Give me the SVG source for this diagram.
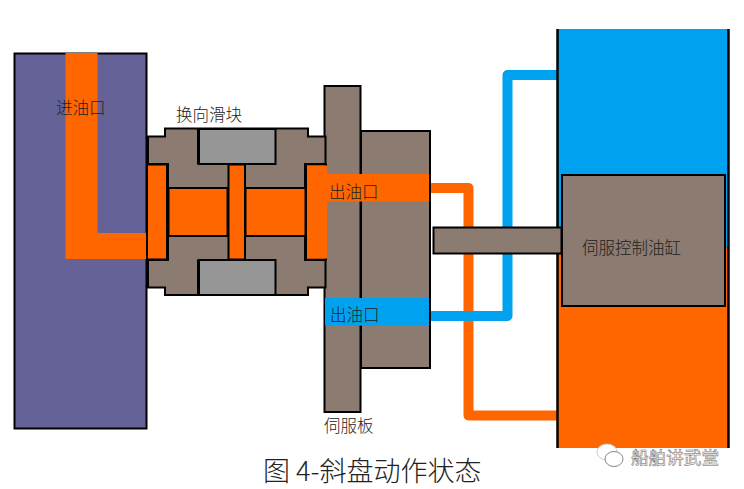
<svg xmlns="http://www.w3.org/2000/svg" width="744" height="489" viewBox="0 0 744 489">
<style>
.o{fill:#ff6600;stroke:none}
.b{fill:#00a2ef;stroke:none}
.br{fill:#8b7b70;stroke:#000;stroke-width:2}
.or{fill:#ff6600;stroke:#000;stroke-width:2}
.gr{fill:#969696;stroke:#000;stroke-width:2}
.t{font-family:"Noto Sans CJK SC","Liberation Sans",sans-serif;font-size:16.500px;font-weight:300;fill:#222}
.pipe{fill:none;stroke-width:10;stroke-linejoin:round}
</style>
<rect width="744" height="489" fill="#fff"/>
<g id="connectors">
<path class="pipe" d="M428 188H468.500V415.500H558" stroke="#ff6600"/>
<path class="pipe" d="M428 316H507.500V75H558" stroke="#00a2ef"/>
</g>
<g id="inlet-block">
<rect x="14.500" y="53.500" width="132" height="375" fill="#656297" stroke="#000" stroke-width="2"/>
<path class="o" d="M65.500 53H97.500V233H146.500V259H65.500Z"/>
<text class="t" x="56" y="114">进油口</text>
</g>
<g id="servo-plate">
<rect class="br" x="361" y="131" width="69" height="237"/>
<rect class="br" x="324.500" y="86" width="36" height="326"/>
<rect class="o" x="326" y="174" width="103" height="27.500"/>
<rect class="b" x="325" y="298" width="104" height="27.500"/>
<text class="t" x="329" y="198">出油口</text>
<text class="t" x="330" y="321">出油口</text>
<text class="t" x="324" y="432">伺服板</text>
</g>
<g id="slider">
<path class="br" d="M147.500 136.500H165V128.500H308V136.500H325.500V164H305V188H168V164H147.500Z"/>
<path class="br" d="M147.500 260H168V236H305V260H325.500V287.500H308V295H165V287.500H147.500Z"/>
<rect class="gr" x="198.500" y="129" width="77" height="35"/>
<rect class="gr" x="198.500" y="260" width="77" height="35"/>
<path d="M198.500 129V164M198.500 260V295M147.500 136V164M147.500 260V288" stroke="#000" stroke-width="3"/>
<rect class="or" x="147" y="164.500" width="20" height="95"/>
<rect class="or" x="168.500" y="188" width="59" height="48"/>
<rect class="or" x="228.500" y="164.500" width="16.500" height="95"/>
<rect class="or" x="245.500" y="188" width="60" height="48"/>
<rect class="or" x="306" y="164.500" width="20" height="95"/>
<rect class="o" x="307" y="165.500" width="20" height="93"/>
<text class="t" x="176" y="121">换向滑块</text>
</g>
<g id="servo-cylinder">
<rect class="b" x="558" y="29" width="170" height="219"/>
<rect class="o" x="558" y="248" width="170" height="200"/>
<path d="M557.500 29V448M728.500 29V448" stroke="#000" stroke-width="2.500"/>
<rect class="br" x="433.500" y="227.500" width="128" height="26"/>
<rect class="br" x="562" y="175" width="163" height="131"/>
<text class="t" x="582" y="254">伺服控制油缸</text>
</g>
<g id="watermark">
<ellipse cx="607" cy="452" rx="10" ry="8" fill="#fff" stroke="#ccc"/>
<ellipse cx="614" cy="459" rx="9" ry="7.500" fill="#fff" stroke="#888"/>
<text x="631" y="464" font-family="&quot;Noto Sans CJK SC&quot;,sans-serif" font-size="17.600" fill="#fff" stroke="#666" stroke-width=".5">船舶讲武堂</text>
</g>
<text id="caption" x="263" y="481" font-family="&quot;Noto Sans CJK SC&quot;,sans-serif" font-size="27" font-weight="300" fill="#222">图 4-斜盘动作状态</text>
</svg>
